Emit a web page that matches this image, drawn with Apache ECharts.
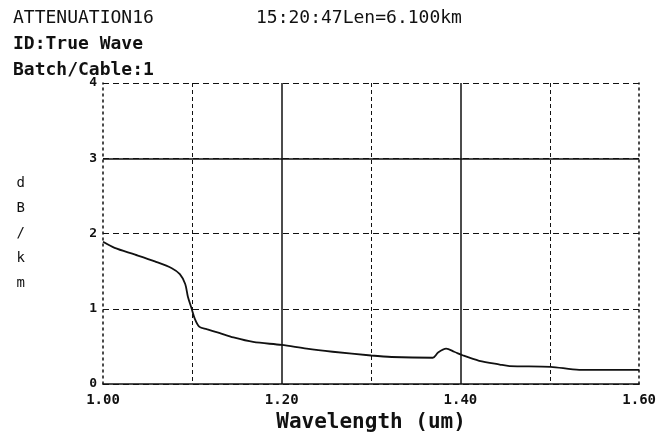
<!DOCTYPE html>
<html>
	<head>
		<meta charset="utf-8">
		<title>ATTENUATION16</title>
		<script src="https://cdn.jsdelivr.net/npm/echarts@6/dist/echarts.min.js"></script>
		<style>
			html, body { margin: 0; padding: 0; background: #fff; }
			#main { width: 659px; height: 438px; }
		</style>
	</head>
	<body>
		<div id="main"></div>
		<script type="text/javascript">
			// wavelength (um) and attenuation (dB/km)
			const wavelength = [1.000, 1.013, 1.036, 1.058, 1.077, 1.086, 1.092, 1.095, 1.099, 1.103, 1.108, 1.116, 1.130, 1.146, 1.168, 1.200, 1.228, 1.257, 1.300, 1.323, 1.369, 1.375, 1.384, 1.393, 1.403, 1.421, 1.444, 1.455, 1.501, 1.533, 1.600]
			const attenuation = [1.89, 1.81, 1.72, 1.63, 1.54, 1.46, 1.33, 1.16, 1.01, 0.86, 0.76, 0.73, 0.68, 0.62, 0.56, 0.52, 0.47, 0.43, 0.38, 0.36, 0.35, 0.42, 0.47, 0.43, 0.38, 0.31, 0.26, 0.24, 0.23, 0.19, 0.19]
			const headerLines = ['ATTENUATION16', 'ID:True Wave', 'Batch/Cable:1']
			const headerRight = '15:20:47Len=6.100km'
			const solidY = [3]

			const mono = 'DejaVu Sans Mono'
			const ink = '#111'

			let points = wavelength.map((w, i) => [w, attenuation[i]])

			let titles = headerLines.map((t, i) => ({
				text: t,
				left: 8,
				top: 4 + i * 26,
				textStyle: { fontFamily: mono, fontSize: 18, fontWeight: i == 0 ? 'normal' : 'bold', color: ink }
			}))
			titles.push({
				text: headerRight,
				left: 251,
				top: 4,
				textStyle: { fontFamily: mono, fontSize: 18, fontWeight: 'normal', color: ink }
			})

			const option = {
				animation: false,
				backgroundColor: '#fff',
				title: titles,
				grid: { left: 103, right: 19, top: 83, bottom: 45 },
				xAxis: {
					type: 'value',
					min: 1.0,
					max: 1.6,
					interval: 0.2,
					name: 'Wavelength (um)',
					nameLocation: 'middle',
					nameGap: 23,
					nameTextStyle: { fontFamily: mono, fontSize: 21, fontWeight: 'bold', color: ink },
					axisLine: { show: true, lineStyle: { color: ink, width: 1.5 } },
					axisTick: { show: false },
					minorTick: { show: false, splitNumber: 2 },
					axisLabel: {
						margin: 9,
						fontFamily: mono, fontSize: 14, fontWeight: 'bold', color: ink,
						formatter: (v) => v.toFixed(2)
					},
					splitLine: { show: true, showMinLine: false, showMaxLine: false, lineStyle: { color: ink, width: 1.5, type: 'solid' } },
					minorSplitLine: { show: true, lineStyle: { color: ink, width: 1, type: [4, 3] } }
				},
				yAxis: [
					{
						type: 'value',
						min: 0,
						max: 4,
						interval: 1,
						name: 'd\nB\n/\nk\nm',
						nameLocation: 'middle',
						nameRotate: 0,
						nameGap: 78,
						nameTextStyle: { fontFamily: mono, fontSize: 14, color: ink, lineHeight: 25, padding: [10, 0, 0, 0] },
						axisLine: { show: true, lineStyle: { color: ink, width: 1.5, type: [2, 4] } },
						axisTick: { show: false },
						axisLabel: { margin: 6, fontFamily: mono, fontSize: 13, fontWeight: 'bold', color: ink },
						splitLine: { show: true, lineStyle: { color: ink, width: 1, type: [6, 4] } }
					},
					{
						type: 'value',
						position: 'right',
						min: 0,
						max: 4,
						interval: 1,
						axisLine: { show: true, lineStyle: { color: ink, width: 1.5, type: [2, 4] } },
						axisTick: { show: false },
						axisLabel: { show: false },
						splitLine: { show: false }
					}
				],
				series: [
					{
						name: 'Attenuation',
						type: 'line',
						data: points,
						showSymbol: false,
						smooth: 0.3,
						lineStyle: { color: ink, width: 1.8 },
						markLine: {
							silent: true,
							symbol: 'none',
							label: { show: false },
							lineStyle: { color: ink, width: 1.5, type: 'solid' },
							data: solidY.map(v => ({ yAxis: v }))
						}
					}
				]
			}

			var myChart = echarts.init(document.getElementById('main'))
			myChart.setOption(option)
		</script>
	</body>
</html>
